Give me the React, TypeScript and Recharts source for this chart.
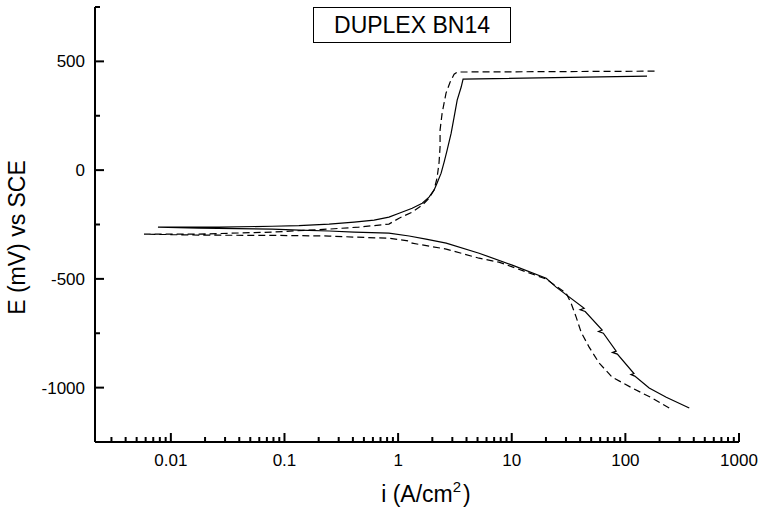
import React from 'react';
import { LineChart, Line, XAxis, YAxis, Label } from 'recharts';

const FONT = '"Liberation Sans", Arial, Helvetica, sans-serif';

// [i (A/cm2), E (mV)], going outwards from the corrosion potential
const solidCathodic: [number, number][] = [
  [0.0077, -262], [0.0177, -267], [0.078, -271], [0.134, -276], [0.247, -280],
  [0.41, -285], [0.83, -290], [1.25, -303], [1.76, -317], [2.65, -336],
  [5.16, -382], [10.1, -437], [20.1, -497], [24.6, -538], [43.4, -635],
  [40.0, -642], [44.3, -650], [62.5, -735], [58.0, -742], [64.0, -750],
  [83.0, -832], [77.0, -838], [85.0, -846], [119, -935], [112, -940],
  [121, -947], [162, -1002], [229, -1044], [365, -1094],
];

const solidAnodic: [number, number][] = [
  [0.0077, -262], [0.0266, -262], [0.078, -258], [0.134, -255], [0.247, -248],
  [0.41, -239], [0.615, -230], [0.83, -216], [1.02, -198], [1.33, -175],
  [1.63, -152], [1.87, -124], [2.07, -92], [2.2, -60], [2.39, -14],
  [2.54, 37], [2.7, 92], [2.93, 170], [3.11, 244], [3.31, 322],
  [3.59, 382], [3.73, 418], [155, 432],
];

const dashedCathodic: [number, number][] = [
  [0.0058, -294], [0.0177, -299], [0.078, -300], [0.247, -303], [0.41, -308],
  [0.83, -313], [1.25, -326], [1.33, -336], [2.65, -363], [5.16, -405],
  [7.7, -423], [10.9, -451], [20.1, -501], [30.1, -566], [33.3, -612],
  [36.9, -676], [40.8, -745], [48, -814], [58.8, -887], [76.5, -952],
  [115, -1002], [172, -1048], [243, -1094],
];

const dashedAnodic: [number, number][] = [
  [0.0058, -294], [0.0177, -294], [0.078, -285], [0.247, -271], [0.45, -262],
  [0.83, -248], [1.02, -221], [1.33, -193], [1.63, -161], [1.87, -129],
  [2.07, -92], [2.2, -37], [2.29, 32], [2.34, 106], [2.34, 184],
  [2.44, 262], [2.64, 354], [2.87, 405], [3.11, 441], [3.31, 451],
  [187, 455],
];

const xMajorTicks = [0.01, 0.1, 1, 10, 100, 1000];
const xTicks = [
  0.003, 0.004, 0.005, 0.006, 0.007, 0.008, 0.009, 0.01,
  0.02, 0.03, 0.04, 0.05, 0.06, 0.07, 0.08, 0.09, 0.1,
  0.2, 0.3, 0.4, 0.5, 0.6, 0.7, 0.8, 0.9, 1,
  2, 3, 4, 5, 6, 7, 8, 9, 10,
  20, 30, 40, 50, 60, 70, 80, 90, 100,
  200, 300, 400, 500, 600, 700, 800, 900, 1000,
];
const yMajorTicks = [-1000, -500, 0, 500];
const yTicks = [-1250, -1000, -750, -500, -250, 0, 250, 500, 750];

const toPoints = (cath: [number, number][], anod: [number, number][]) =>
  [...cath].reverse().concat(anod).map(([i, E]) => ({ i, E }));

const solidData = toPoints(solidCathodic, solidAnodic);
const dashedData = toPoints(dashedCathodic, dashedAnodic);

const XTick = (props: any) => {
  const { x, y, payload } = props;
  const major = xMajorTicks.includes(payload.value);
  return (
    <g>
      <line x1={x} x2={x} y1={y} y2={y - (major ? 9 : 5)} stroke="#000" strokeWidth={2} />
      {major && (
        <text x={x} y={y + 24} textAnchor="middle" fontSize={17} fontFamily={FONT} fill="#000">
          {payload.value}
        </text>
      )}
    </g>
  );
};

const YTick = (props: any) => {
  const { x, y, payload } = props;
  const major = yMajorTicks.includes(payload.value);
  return (
    <g>
      <line x1={x} x2={x + (major ? 9 : 5)} y1={y} y2={y} stroke="#000" strokeWidth={2} />
      {major && (
        <text x={x - 10} y={y} dy="0.36em" textAnchor="end" fontSize={17} fontFamily={FONT} fill="#000">
          {payload.value}
        </text>
      )}
    </g>
  );
};

const XTitle = (props: any) => {
  const vb = props.viewBox;
  const cx = vb.x + vb.width / 2 + 9;
  return (
    <text x={cx} y={vb.y + 60} textAnchor="middle" fontSize={23} fontFamily={FONT} fill="#000">
      <tspan>i (A/cm</tspan>
      <tspan dy={-10} fontSize={15}>2</tspan>
      <tspan dy={10} dx={2}>)</tspan>
    </text>
  );
};

const YTitle = (props: any) => {
  const vb = props.viewBox;
  const cx = vb.x + 25;
  const cy = vb.y + vb.height / 2 + 13;
  return (
    <text
      x={cx}
      y={cy}
      textAnchor="middle"
      fontSize={23}
      fontFamily={FONT}
      fill="#000"
      transform={`rotate(-90, ${cx}, ${cy})`}
    >
      E (mV) vs SCE
    </text>
  );
};

export default function App() {
  return (
    <div style={{ position: 'absolute', left: 0, top: 0, width: 763, height: 508, background: '#fff' }}>
      <LineChart width={763} height={508} margin={{ top: 7, right: 24, bottom: 0, left: 0 }}>
        <XAxis
          dataKey="i"
          type="number"
          scale="log"
          domain={[0.00215, 1000]}
          allowDataOverflow
          ticks={xTicks}
          interval={0}
          tick={<XTick />}
          tickLine={false}
          tickSize={0}
          tickMargin={0}
          height={66}
          axisLine={{ stroke: '#000', strokeWidth: 2 }}
        >
          <Label content={<XTitle />} />
        </XAxis>
        <YAxis
          type="number"
          domain={[-1250, 750]}
          allowDataOverflow
          ticks={yTicks}
          interval={0}
          tick={<YTick />}
          tickLine={false}
          tickSize={0}
          tickMargin={0}
          width={95}
          axisLine={{ stroke: '#000', strokeWidth: 2 }}
        >
          <Label content={<YTitle />} />
        </YAxis>
        <Line
          data={solidData}
          dataKey="E"
          type="linear"
          stroke="#000"
          strokeWidth={1.2}
          dot={false}
          activeDot={false}
          isAnimationActive={false}
        />
        <Line
          data={dashedData}
          dataKey="E"
          type="linear"
          stroke="#000"
          strokeWidth={1.2}
          strokeDasharray="7 4"
          dot={false}
          activeDot={false}
          isAnimationActive={false}
        />
      </LineChart>
      <div
        style={{
          position: 'absolute',
          left: 313,
          top: 7,
          width: 198,
          height: 36,
          boxSizing: 'border-box',
          border: '1px solid #000',
          fontFamily: FONT,
          fontSize: 23,
          lineHeight: '34px',
          textAlign: 'center',
          color: '#000',
        }}
      >
        DUPLEX BN14
      </div>
    </div>
  );
}
